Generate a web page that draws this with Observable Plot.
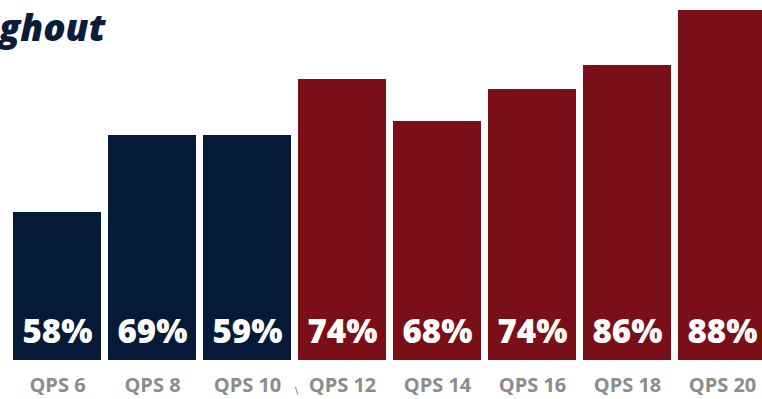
<!DOCTYPE html>
<html>
<head>
<meta charset="utf-8">
<script src="https://cdn.jsdelivr.net/npm/d3@7"></script>
<script src="https://cdn.jsdelivr.net/npm/@observablehq/plot@0.6"></script>
<style>
  html, body { margin: 0; padding: 0; background: #fff; overflow: hidden; }
  #wrap { position: relative; width: 762px; height: 399px; }
  #title { position: absolute; left: -1px; top: 8px; font-family: "Open Sans", sans-serif; font-weight: 800; font-style: italic; font-size: 37px; line-height: 1; color: #0b1c3b; white-space: nowrap; }
  #mark { position: absolute; left: 295px; top: 386px; font-family: "DejaVu Sans", sans-serif; font-size: 9px; color: #555; }
</style>
</head>
<body>
<div id="wrap">
  <div id="chart"></div>
  <div id="title">ghout</div>
  <div id="mark">\</div>
</div>
<script>
const categories = ["QPS 6", "QPS 8", "QPS 10", "QPS 12", "QPS 14", "QPS 16", "QPS 18", "QPS 20"];
const barValues = [148, 225, 225, 281, 239, 271, 295, 350];
const percentLabels = ["58%", "69%", "59%", "74%", "68%", "74%", "86%", "88%"];
const groups = ["earlier", "earlier", "earlier", "later", "later", "later", "later", "later"];

const data = categories.map((c, i) => ({ cat: c, value: barValues[i], label: percentLabels[i], group: groups[i] }));

const chart = Plot.plot({
  width: 762,
  height: 399,
  marginTop: 10,
  marginBottom: 39,
  marginLeft: 0,
  marginRight: 0,
  style: { background: "#fff", overflow: "visible" },
  x: { domain: categories, range: [13, 768], paddingInner: 0.0765, paddingOuter: 0, align: 0, label: null },
  y: { domain: [0, 350], axis: null },
  color: { type: "ordinal", domain: ["earlier", "later"], range: ["#041a38", "#7a0f18"] },
  marks: [
    Plot.barY(data, { x: "cat", y: "value", fill: "group" }),
    Plot.text(data, { x: "cat", y: 0, text: "label", dy: -28, lineAnchor: "middle", fill: "#fff", fontSize: 33, fontWeight: 800, fontFamily: "Open Sans, sans-serif" }),
    Plot.axisX({ tickSize: 0, tickPadding: 17, fontSize: 20, fontWeight: 700, fill: "#8c8c8c", fontFamily: "Open Sans, sans-serif", label: null })
  ]
});
document.getElementById("chart").appendChild(chart);
</script>
</body>
</html>
